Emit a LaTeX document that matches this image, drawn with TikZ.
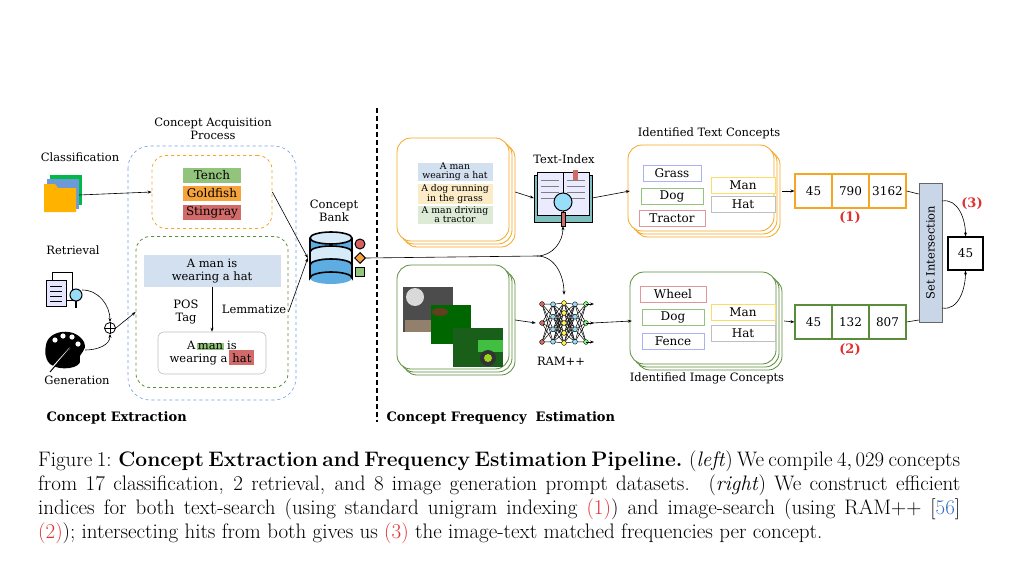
\documentclass[tikz,border=0pt]{standalone}
\usepackage{fontspec}
\newfontfamily\dfont{DejaVu Serif}
\usetikzlibrary{arrows.meta,shapes.geometric}
\definecolor{cblue}{HTML}{6C9BEA}
\definecolor{corange}{HTML}{F5A623}
\definecolor{cgreen}{HTML}{5B8C3A}
\definecolor{hgreen}{HTML}{93C47D}
\definecolor{horange}{HTML}{F6A33C}
\definecolor{hred}{HTML}{D26A6A}
\definecolor{hblue}{HTML}{D3E0F0}
\definecolor{hyellow}{HTML}{FBEBC6}
\definecolor{hlgreen}{HTML}{DCEAD6}
\definecolor{capred}{HTML}{E03030}
\definecolor{capblue}{HTML}{3A6FC4}
\definecolor{dbblue}{HTML}{5DADE2}
\definecolor{dblight}{HTML}{D6EAF8}
\definecolor{setfill}{HTML}{C9D6E8}
\begin{document}
\begin{tikzpicture}[x=1pt,y=-1pt,
  lab/.style={font=\dfont\fontsize{11.5}{13}\selectfont, align=center, inner sep=1pt},
  tag/.style={font=\dfont\fontsize{12}{12}\selectfont, draw, line width=1pt, minimum height=16pt, inner sep=1pt, fill=white},
  hl/.style={font=\dfont\fontsize{12}{12}\selectfont, minimum height=15pt, inner sep=1pt},
  small/.style={font=\dfont\fontsize{9.3}{9}\selectfont, align=center, inner sep=0.5pt},
  arr/.style={-{Stealth[length=4pt,width=3pt]}, line width=0.6pt},
  cell/.style={draw, line width=1.1pt, minimum width=37pt, minimum height=34pt, font=\dfont\fontsize{12}{12}\selectfont, inner sep=0pt},
  capn/.style={anchor=west, font=\fontsize{21}{22}\selectfont, inner sep=0pt},
  stackbox/.style={draw=#1, line width=0.8pt, rounded corners=14pt, fill=white}
]
\useasboundingbox (0,0) rectangle (1024,567);

% ---------- left panel ----------
\node[lab] (cap) at (213,129) {Concept Acquisition\\Process};
\draw[cblue, dashed, line width=0.6pt, rounded corners=22pt] (128,146) rectangle (296,400);
\node[draw=corange, dashed, line width=0.8pt, rounded corners=14pt, minimum width=120pt, minimum height=73pt] (ob) at (212,192) {};
\node[hl, fill=hgreen, minimum width=58pt] (tench) at (212,175) {Tench};
\node[hl, fill=horange, minimum width=58pt] (gold) at (212,193) {Goldfish};
\node[hl, fill=hred, minimum width=58pt] (sting) at (212,212) {Stingray};
\node[draw=cgreen, dashed, line width=0.8pt, rounded corners=14pt, minimum width=152pt, minimum height=151pt] (gb) at (212,312) {};
\node[lab, fill=hblue, minimum width=137pt, minimum height=32pt] (sent) at (212,271) {A man is\\wearing a hat};
\node[draw=black!25, rounded corners=6pt, minimum width=108pt, minimum height=42pt, line width=0.6pt] (lem) at (212,353) {};
\node[lab] at (212,353) {\setlength{\fboxsep}{0.5pt}A\,\colorbox{hgreen}{man} is\\wearing a\,\colorbox{hred}{hat}};
\draw[arr] (sent.south) -- (lem.north);
\node[lab] (pos) at (186,312) {POS\\Tag};
\node[lab] (lemz) at (254,309) {Lemmatize};

\node[lab] (cls) at (80,157) {Classification};
% folder icon
\fill[green!45!teal] (50,175) rectangle (82,205);
\fill[cyan!50!blue!60] (47,179) rectangle (79,209);
\fill[orange!60!yellow] (44,184) -- (55,184) -- (58,188) -- (76,188) -- (76,212) -- (44,212) -- cycle;
\node[inner sep=0, minimum width=34pt, minimum height=30pt] (fold) at (62,195) {};
\draw[arr] (fold.east) -- (ob.west);

\node[lab] (ret) at (73,250) {Retrieval};
% document icon
\draw[line width=1pt, fill=white] (52,272) rectangle (72,300);
\draw[line width=1pt, fill=blue!10] (46,280) rectangle (66,306);
\foreach \yy in {286,291,296,301} \draw[line width=0.8pt] (50,\yy) -- (62,\yy);
\draw[line width=1pt, fill=cyan!40] (76,295) circle (6);
\draw[line width=1.5pt] (76,301) -- (76,308);
\node[inner sep=0, minimum width=36pt, minimum height=36pt] (doc) at (64,290) {};

\node[lab] (gen) at (77,380) {Generation};
% palette icon
\fill[black] (46,345) .. controls (48,330) and (75,326) .. (84,342) .. controls (88,352) and (78,352) .. (80,360) .. controls (82,368) and (60,372) .. (50,364) .. controls (44,358) and (45,350) .. (46,345) -- cycle;
\foreach \p in {(55,340),(63,336),(72,337),(78,344)} \fill[white] \p circle (2.6);
\draw[white, line width=1.4pt] (52,368) -- (70,348);
\draw[black, line width=1pt] (50,372) -- (72,346);
\node[inner sep=0, minimum width=40pt, minimum height=40pt] (pal) at (65,350) {};

\node[circle, draw, line width=0.8pt, inner sep=0, minimum size=11pt] (plus) at (110,328) {};
\draw[line width=0.8pt] (plus.north) -- (plus.south) (plus.west) -- (plus.east);
\draw[arr] (doc.east) to[out=0, in=90] (plus.north);
\draw[arr] (pal.east) to[out=0, in=-90] (plus.south);
\draw[arr] (plus.east) -- (gb.west);

\node[font=\dfont\bfseries\fontsize{13}{13}\selectfont, anchor=west] (ce) at (43,418) {Concept Extraction};

% database
\node[lab] (bank) at (334,211) {Concept\\Bank};
\fill[dbblue] (310,238) rectangle (352,278);
\fill[dbblue] (331,278) ellipse (21 and 6);
\fill[dblight] (310,252) arc (180:360:21 and 6) -- (352,264) arc (360:180:21 and 6) -- cycle;
\draw[line width=1.6pt] (310,238) -- (310,278) arc (180:360:21 and 6) -- (352,238);
\draw[line width=1.6pt] (310,252) arc (180:360:21 and 6);
\draw[line width=1.6pt] (310,265) arc (180:360:21 and 6);
\draw[line width=1.6pt, fill=dblight] (331,238) ellipse (21 and 6);
\node[inner sep=0, minimum width=46pt, minimum height=50pt] (db) at (331,258) {};
\node[circle, draw, line width=1pt, fill=hred!90!red, inner sep=0, minimum size=10pt] (c1) at (360,244) {};
\node[diamond, draw, line width=1pt, fill=horange, inner sep=0, minimum size=11pt] (c2) at (360,258) {};
\node[draw, line width=1pt, fill=hgreen, inner sep=0, minimum size=9pt] (c3) at (360,272) {};
\draw[arr] (ob.east) -- (db.west);
\draw[arr] (gb.east) -- (db.west);

\draw[line width=1.2pt, dash pattern=on 5pt off 3pt] (377,108) -- (377,422);
\node[font=\dfont\bfseries\fontsize{13}{13}\selectfont, anchor=west] (cfe) at (383,418) {Concept Frequency\ \ Estimation};

% ---------- right panel ----------
\foreach \d in {6,3,0}{\draw[stackbox=corange] (397+\d,138+\d) rectangle (509+\d,241+\d);}
\node[inner sep=0, minimum width=118pt, minimum height=109pt] (tb) at (456,192) {};
\node[small, fill=hblue, minimum width=75pt] at (455,172) {A man\\wearing a hat};
\node[small, fill=hyellow, minimum width=75pt] at (455,194) {A dog running\\in the grass};
\node[small, fill=hlgreen, minimum width=75pt] at (455,215) {A man driving\\a tractor};

\foreach \d in {6,3,0}{\draw[stackbox=cgreen] (397+\d,265+\d) rectangle (509+\d,369+\d);}
\node[inner sep=0, minimum width=118pt, minimum height=110pt] (ib) at (456,320) {};
\fill[gray!60!black] (403,287) rectangle (453,332);
\fill[gray!30] (415,297) circle (9);
\fill[gray!70!brown] (405,320) rectangle (450,332);
\fill[green!40!black] (431,305) rectangle (471,344);
\fill[brown!50!black] (440,312) ellipse (8 and 4);
\fill[green!30!black!90] (453,328) rectangle (503,367);
\fill[gray!50!green] (478,340) rectangle (503,352);
\fill[black!80] (488,358) circle (8);
\fill[yellow!60!green] (488,358) circle (4);

% text index book
\node[lab] (ti) at (564,159) {Text-Index};
\draw[line width=1pt, fill=teal!50] (534,175) rectangle (592,222);
\draw[line width=1pt, fill=blue!8] (537,172) rectangle (563,215);
\draw[line width=1pt, fill=blue!8] (563,172) rectangle (589,215);
\foreach \yy in {180,186,192,198} {\draw[line width=0.6pt, gray] (541,\yy) -- (559,\yy); \draw[line width=0.6pt,gray] (567,\yy) -- (585,\yy);}
\fill[hred] (573,170) rectangle (578,180);
\draw[line width=1pt, fill=cyan!40] (563,202) circle (9);
\draw[line width=1pt, fill=hred] (561,212) rectangle (565,226);
\node[inner sep=0, minimum width=58pt, minimum height=56pt] (book) at (563,198) {};

% neural net
\node[lab] (ram) at (561,361) {RAM++};
\foreach \i/\xx/\n in {0/542/3,1/553/4,2/564/5,3/575/4,4/586/3}{
  \foreach \j in {1,...,\n}{ \coordinate (n\i-\j) at (\xx,{323+(\j-(\n+1)/2)*(\n==3?19:(\n==4?12.5:10))}); }
}
\foreach \a/\na/\b/\nb in {0/3/1/4,1/4/2/5,2/5/3/4,3/4/4/3}{
  \foreach \j in {1,...,\na}{\foreach \k in {1,...,\nb}{\draw[line width=0.5pt] (n\a-\j) -- (n\b-\k);}}
}
\foreach \i/\n/\c in {0/3/hred,1/4/cyan!40,2/5/yellow!70,3/4/cyan!40,4/3/green!50}{
  \foreach \j in {1,...,\n}{\fill[\c] (n\i-\j) circle (2.4); \draw[line width=0.4pt] (n\i-\j) circle (2.4);}
}
\foreach \j in {1,2,3}{\draw[arr] (n4-\j) -- ++(8,0);}
\node[inner sep=0, minimum width=56pt, minimum height=56pt] (nn) at (564,323) {};

% connections from concept bank
\coordinate (split) at (537,256);
\draw[line width=0.6pt] (c2.east) -- (split);
\draw[arr] (split) to[out=0, in=-90] (book.south);
\draw[arr] (split) to[out=0, in=90] (nn.north);
\draw[arr] (tb.east) -- (book.west);
\draw[arr] (ib.east) -- (nn.west);

% identified text concepts
\node[lab] (itc) at (709,133) {Identified Text Concepts};
\foreach \d in {6,3,0}{\draw[stackbox=corange] (628+\d,145+\d) rectangle (774+\d,231+\d);}
\node[inner sep=0, minimum width=152pt, minimum height=92pt] (tcb) at (706,191) {};
\node[tag, draw=hblue!80!blue, minimum width=58pt] at (672,173) {Grass};
\node[tag, draw=hgreen, minimum width=62pt] at (672,196) {Dog};
\node[tag, draw=hred!70, minimum width=66pt] at (672,218) {Tractor};
\node[tag, draw=yellow!60!orange!60, minimum width=64pt] at (743,185) {Man};
\node[tag, draw=black!25, minimum width=64pt] at (743,204) {Hat};
\draw[arr] (book.east) -- (tcb.west);

\node[lab] (iic) at (707,378) {Identified Image Concepts};
\foreach \d in {6,3,0}{\draw[stackbox=cgreen] (630+\d,272+\d) rectangle (776+\d,364+\d);}
\node[inner sep=0, minimum width=152pt, minimum height=98pt] (icb) at (708,321) {};
\node[tag, draw=hred!70, minimum width=66pt] at (673,294) {Wheel};
\node[tag, draw=hgreen, minimum width=62pt] at (673,317) {Dog};
\node[tag, draw=hblue!80!blue, minimum width=62pt] at (673,341) {Fence};
\node[tag, draw=yellow!60!orange!60, minimum width=64pt] at (743,312) {Man};
\node[tag, draw=black!25, minimum width=64pt] at (743,333) {Hat};
\draw[arr] (nn.east) -- (icb.west);

% index cells
\node[cell, draw=corange] (t1) at (813.5,191) {45};
\node[cell, draw=corange] (t2) at (850.5,191) {790};
\node[cell, draw=corange] (t3) at (887.5,191) {3162};
\node[font=\dfont\bfseries\fontsize{13}{13}\selectfont, text=capred] (l1) at (850,218) {(1)};
\node[cell, draw=cgreen] (i1) at (813.5,322) {45};
\node[cell, draw=cgreen] (i2) at (850.5,322) {132};
\node[cell, draw=cgreen] (i3) at (887.5,322) {807};
\node[font=\dfont\bfseries\fontsize{13}{13}\selectfont, text=capred] (l2) at (850,350) {(2)};
\draw[arr] (tcb.east) -- (t1.west);
\draw[arr] (icb.east) -- (i1.west);

\node[draw=black!60, fill=setfill, line width=0.6pt, minimum width=23pt, minimum height=139pt, inner sep=0] (set) at (930.5,252.5) {};
\node[rotate=90, font=\dfont\fontsize{11.5}{12}\selectfont] at (set.center) {Set Intersection};
\draw[line width=0.6pt] (t3.east) -- (set.west |- 0,194);
\draw[line width=0.6pt] (i3.east) -- (set.west |- 0,320);
\node[draw, line width=1.2pt, minimum width=35pt, minimum height=33pt, font=\dfont\fontsize{12}{12}\selectfont] (res) at (965.5,253.5) {45};
\node[font=\dfont\bfseries\fontsize{13}{13}\selectfont, text=capred] (l3) at (972,204) {(3)};
\draw[arr] (942,201) to[out=10, in=90] (res.north);
\draw[arr] (942,308) to[out=-10, in=-90] (res.south);

% ---------- caption ----------
\node[capn] (cp1) at (38,461) {\spaceskip=0.2em plus 1em\makebox[922pt][s]{Figure 1: \textbf{Concept Extraction and Frequency Estimation Pipeline.} (\textit{left}) We compile $4,029$ concepts}};
\node[capn] (cp2) at (38,485) {\spaceskip=0.2em plus 1em\makebox[922pt][s]{from 17 classification, 2 retrieval, and 8 image generation prompt datasets. (\textit{right}) We construct efficient}};
\node[capn] (cp3) at (38,509) {\spaceskip=0.2em plus 1em\makebox[922pt][s]{indices for both text-search (using standard unigram indexing \textcolor{capred}{(1)}) and image-search (using RAM++ [\textcolor{capblue}{56}]}};
\node[capn] (cp4) at (38,533) {\textcolor{capred}{(2)}); intersecting hits from both gives us \textcolor{capred}{(3)} the image-text matched frequencies per concept.};
\end{tikzpicture}
\end{document}
